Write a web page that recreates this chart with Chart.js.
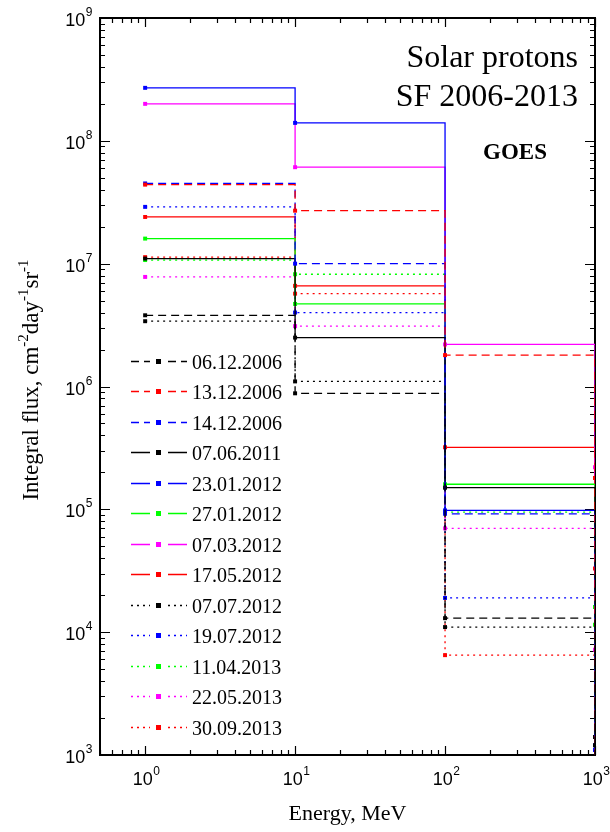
<!DOCTYPE html>
<html>
<head>
<meta charset="utf-8">
<script src="https://cdn.jsdelivr.net/npm/chart.js@4.4.1/dist/chart.umd.min.js"></script>
<style>
  html, body { margin: 0; padding: 0; background: #fff; }
</style>
</head>
<body>
<canvas id="flux" width="610" height="832"></canvas>
<script>
// integral thresholds, MeV
const energies = [1, 10, 100, 1000];

// integral flux per event, cm-2 day-1 sr-1, at >1, >10, >100, >1000 MeV
const ev_06_12_2006 = [3.8e6, 8.8e5, 1.3e4, 1.2e3];
const ev_13_12_2006 = [4.4e7, 2.7e7, 1.8e6, 1.8e5];
const ev_14_12_2006 = [4.5e7, 1.0e7, 9.2e4, 9e2];
const ev_07_06_2011 = [1.1e7, 2.5e6, 1.5e5, 1.4e3];
const ev_23_01_2012 = [2.7e8, 1.4e8, 9.8e4, 1.1e3];
const ev_27_01_2012 = [1.6e7, 4.7e6, 1.6e5, 1.6e4];
const ev_07_03_2012 = [2.0e8, 6.1e7, 2.2e6, 2.2e5];
const ev_17_05_2012 = [2.4e7, 6.6e6, 3.2e5, 3.3e4];
const ev_07_07_2012 = [3.4e6, 1.1e6, 1.1e4, 9e2];
const ev_19_07_2012 = [2.9e7, 4.0e6, 1.9e4, 1.2e3];
const ev_11_04_2013 = [1.07e7, 8.2e6, 9.5e4, 1.15e4];
const ev_22_05_2013 = [7.8e6, 3.1e6, 7.0e4, 7.2e3];
const ev_30_09_2013 = [1.13e7, 5.7e6, 6.5e3, 9e2];

const eventDates = ['06.12.2006', '13.12.2006', '14.12.2006', '07.06.2011', '23.01.2012',
  '27.01.2012', '07.03.2012', '17.05.2012', '07.07.2012', '19.07.2012',
  '11.04.2013', '22.05.2013', '30.09.2013'];
const eventFlux = [ev_06_12_2006, ev_13_12_2006, ev_14_12_2006, ev_07_06_2011, ev_23_01_2012,
  ev_27_01_2012, ev_07_03_2012, ev_17_05_2012, ev_07_07_2012, ev_19_07_2012,
  ev_11_04_2013, ev_22_05_2013, ev_30_09_2013];

// below the axis: closing drop of every histogram
const floorFlux = 100;

const yDecades = [3, 4, 5, 6, 7, 8, 9];
const xDecades = [0, 1, 2, 3];

const colors = ['#000000', '#ff0000', '#0000ff', '#000000', '#0000ff', '#00ff00', '#ff00ff',
  '#ff0000', '#000000', '#0000ff', '#00ff00', '#ff00ff', '#ff0000'];
const DASH = [8, 5], SOLID = [], DOT = [2, 4];
const dashes = [DASH, DASH, DASH, SOLID, SOLID, SOLID, SOLID, SOLID, DOT, DOT, DOT, DOT, DOT];

// histogram outline: flat between thresholds, vertical drops at each threshold
function stepPath(values) {
  const pts = [];
  values.forEach((v, i) => {
    if (i > 0) pts.push({ x: energies[i], y: values[i - 1] });
    pts.push({ x: energies[i], y: v });
  });
  pts.push({ x: energies[energies.length - 1], y: floorFlux });
  return pts;
}

const datasets = eventFlux.map((vals, i) => ({
  label: eventDates[i],
  data: stepPath(vals),
  borderColor: colors[i],
  backgroundColor: colors[i],
  borderDash: dashes[i],
  borderWidth: 1.3,
  pointStyle: 'rect',
  pointRadius: ctx => (ctx.dataIndex % 2 === 0 ? 2.8 : 0),
  pointBorderWidth: 0,
  tension: 0,
  fill: false
}));

function supLabel(ctx, x, y, base, exp, align, baseFont, expFont, rise) {
  ctx.font = baseFont;
  const wb = ctx.measureText(base).width;
  ctx.font = expFont;
  const we = ctx.measureText(exp).width;
  let x0 = x;
  if (align === 'right') x0 = x - wb - we;
  if (align === 'center') x0 = x - (wb + we) / 2;
  ctx.textAlign = 'left';
  ctx.textBaseline = 'alphabetic';
  ctx.font = baseFont;
  ctx.fillText(base, x0, y);
  ctx.font = expFont;
  ctx.fillText(exp, x0 + wb + 0.5, y - rise);
}

const framePlugin = {
  id: 'frame',
  beforeDatasetsDraw(chart) {
    const { ctx, chartArea: a, scales: { x, y } } = chart;
    ctx.save();
    ctx.strokeStyle = '#000';
    ctx.lineWidth = 1.2;
    ctx.beginPath();
    // inward ticks on all four sides
    for (let d = -1; d <= 3; d++) {
      for (let m = 1; m <= 9; m++) {
        const v = m * Math.pow(10, d);
        if (v < x.min || v > x.max) continue;
        const px = Math.round(x.getPixelForValue(v)) + 0.5;
        const len = m === 1 ? 9 : 5;
        ctx.moveTo(px, a.bottom); ctx.lineTo(px, a.bottom - len);
        ctx.moveTo(px, a.top); ctx.lineTo(px, a.top + len);
      }
    }
    for (let d = 3; d <= 9; d++) {
      for (let m = 1; m <= 9; m++) {
        const v = m * Math.pow(10, d);
        if (v > y.max) continue;
        const py = Math.round(y.getPixelForValue(v)) + 0.5;
        const len = m === 1 ? 10 : 5;
        ctx.moveTo(a.left, py); ctx.lineTo(a.left + len, py);
        ctx.moveTo(a.right, py); ctx.lineTo(a.right - len, py);
      }
    }
    ctx.stroke();
    ctx.lineWidth = 2;
    ctx.strokeRect(a.left, a.top, a.right - a.left, a.bottom - a.top);
    ctx.restore();
  },
  afterDraw(chart) {
    const { ctx, chartArea: a, scales: { x, y } } = chart;
    ctx.save();
    ctx.fillStyle = '#000';

    // tick labels
    const tf = '18px "Liberation Sans", Arial, sans-serif';
    const ef = '12px "Liberation Sans", Arial, sans-serif';
    yDecades.forEach(d => {
      const py = y.getPixelForValue(Math.pow(10, d));
      supLabel(ctx, 92, py + 8, '10', String(d), 'right', tf, ef, 10);
    });
    xDecades.forEach(d => {
      const px = x.getPixelForValue(Math.pow(10, d));
      supLabel(ctx, px + 1, a.bottom + 30, '10', String(d), 'center', tf, ef, 10);
    });

    // axis titles
    const serif = '"Liberation Serif", "Times New Roman", serif';
    ctx.font = '22px ' + serif;
    ctx.textAlign = 'center';
    ctx.textBaseline = 'alphabetic';
    ctx.fillText('Energy, MeV', (a.left + a.right) / 2, 820);

    ctx.save();
    ctx.translate(38, 380);
    ctx.rotate(-Math.PI / 2);
    const parts = [['Integral flux, cm', 0], ['-2', 1], ['day', 0], ['-1', 1], ['sr', 0], ['-1', 1]];
    const bigF = '23px ' + serif, supF = '15px ' + serif;
    let total = 0;
    parts.forEach(p => {
      ctx.font = p[1] ? supF : bigF;
      total += ctx.measureText(p[0]).width;
    });
    let cx = -total / 2;
    ctx.textAlign = 'left';
    parts.forEach(p => {
      ctx.font = p[1] ? supF : bigF;
      ctx.fillText(p[0], cx, p[1] ? -10 : 0);
      cx += ctx.measureText(p[0]).width;
    });
    ctx.restore();

    // panel annotation
    ctx.textAlign = 'right';
    ctx.font = '32px ' + serif;
    ctx.fillText('Solar protons', 578, 67);
    ctx.fillText('SF 2006-2013', 578, 106);
    ctx.textAlign = 'center';
    ctx.font = 'bold 23px ' + serif;
    ctx.fillText('GOES', 515, 159);

    // legend
    ctx.font = '20px ' + serif;
    ctx.textAlign = 'left';
    chart.data.datasets.forEach((ds, i) => {
      const ly = Math.round(360.7 + i * 30.5) + 0.5;
      ctx.strokeStyle = ds.borderColor;
      ctx.lineWidth = 1.3;
      ctx.setLineDash(ds.borderDash);
      ctx.beginPath();
      ctx.moveTo(131, ly); ctx.lineTo(150, ly);
      ctx.moveTo(168, ly); ctx.lineTo(187, ly);
      ctx.stroke();
      ctx.setLineDash([]);
      ctx.fillStyle = ds.borderColor;
      ctx.fillRect(156, ly - 2.5, 5, 5);
      ctx.fillStyle = '#000';
      ctx.fillText(ds.label, 192, ly + 7);
    });
    ctx.restore();
  }
};

new Chart(document.getElementById('flux').getContext('2d'), {
  type: 'line',
  data: { datasets },
  options: {
    responsive: false,
    animation: false,
    events: [],
    layout: { padding: { left: 100, top: 18, right: 15, bottom: 77 } },
    plugins: { legend: { display: false }, tooltip: { enabled: false } },
    scales: {
      x: { type: 'logarithmic', min: 0.5, max: 1000, display: false },
      y: { type: 'logarithmic', min: 1e3, max: 1e9, display: false }
    }
  },
  plugins: [framePlugin]
});
</script>
</body>
</html>
